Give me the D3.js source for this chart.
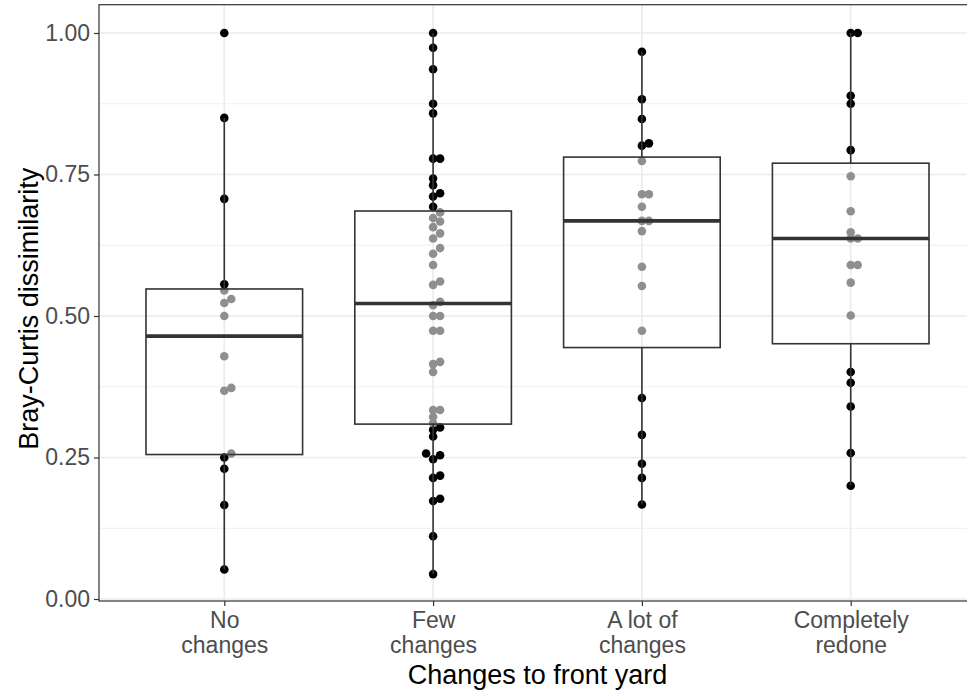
<!DOCTYPE html>
<html>
<head>
<meta charset="utf-8">
<script src="https://cdn.jsdelivr.net/npm/d3@7"></script>
<style>
  body { margin: 0; background: #fff; }
  text { font-family: "Liberation Sans", Arial, Helvetica, sans-serif; }
</style>
</head>
<body>
<svg id="chart" width="967" height="694"></svg>
<script>
// categories shown on the x axis
var categories = ["No changes", "Few changes", "A lot of changes", "Completely redone"];
var tickLines = [["No", "changes"], ["Few", "changes"], ["A lot of", "changes"], ["Completely", "redone"]];
var yTicks = [0, 0.25, 0.5, 0.75, 1];

// Bray-Curtis dissimilarity values per group
var noChanges = [1.0, 0.850, 0.707, 0.556, 0.545, 0.530, 0.523, 0.500, 0.429, 0.373, 0.368,
  0.257, 0.250, 0.230, 0.166, 0.052];
var fewChanges = [1.0, 0.974, 0.936, 0.875, 0.858, 0.778, 0.778, 0.743, 0.731, 0.717, 0.711,
  0.693, 0.683, 0.673, 0.667, 0.657, 0.646, 0.637, 0.620, 0.610, 0.590, 0.561, 0.555, 0.525,
  0.519, 0.500, 0.500, 0.474, 0.474, 0.419, 0.415, 0.401, 0.334, 0.334, 0.322, 0.311, 0.303,
  0.299, 0.287, 0.257, 0.254, 0.247, 0.218, 0.214, 0.177, 0.173, 0.111, 0.044];
var aLotOfChanges = [0.967, 0.883, 0.848, 0.805, 0.801, 0.774, 0.715, 0.715, 0.693, 0.668, 0.668,
  0.650, 0.587, 0.553, 0.474, 0.355, 0.290, 0.239, 0.214, 0.167];
var completelyRedone = [1.0, 1.0, 0.889, 0.875, 0.793, 0.747, 0.685, 0.648, 0.637, 0.637, 0.590,
  0.590, 0.559, 0.501, 0.401, 0.382, 0.340, 0.258, 0.200];

var groups = [noChanges, fewChanges, aLotOfChanges, completelyRedone];

var svg = d3.select("#chart");
var panel = {left: 99, right: 976, top: 4.7, bottom: 601};

var x = d3.scalePoint()
    .domain(categories)
    .range([panel.left, panel.right])
    .padding(0.6);
var y = d3.scaleLinear()
    .domain([0, 1])
    .range([599, 33]);

var boxW = x.step() * 0.75;

var plot = svg.append("g");

// background + grid
plot.append("rect")
    .attr("x", panel.left).attr("y", panel.top)
    .attr("width", panel.right - panel.left).attr("height", panel.bottom - panel.top)
    .attr("fill", "#fff");

var minor = [0.125, 0.375, 0.625, 0.875];
plot.selectAll(".minor").data(minor).enter().append("line")
    .attr("x1", panel.left).attr("x2", panel.right)
    .attr("y1", function(d) { return y(d); }).attr("y2", function(d) { return y(d); })
    .attr("stroke", "#ebebeb").attr("stroke-width", 0.8);
plot.selectAll(".majorY").data(yTicks).enter().append("line")
    .attr("x1", panel.left).attr("x2", panel.right)
    .attr("y1", function(d) { return y(d); }).attr("y2", function(d) { return y(d); })
    .attr("stroke", "#ebebeb").attr("stroke-width", 1.6);
plot.selectAll(".majorX").data(categories).enter().append("line")
    .attr("y1", panel.top).attr("y2", panel.bottom)
    .attr("x1", function(d) { return x(d); }).attr("x2", function(d) { return x(d); })
    .attr("stroke", "#ebebeb").attr("stroke-width", 1.6);

// box stats like ggplot (type 7 quantiles)
function stats(vals) {
  var s = vals.slice().sort(d3.ascending);
  var q1 = d3.quantileSorted(s, 0.25), med = d3.quantileSorted(s, 0.5), q3 = d3.quantileSorted(s, 0.75);
  var iqr = q3 - q1;
  var lo = d3.min(s.filter(function(v) { return v >= q1 - 1.5 * iqr; }));
  var hi = d3.max(s.filter(function(v) { return v <= q3 + 1.5 * iqr; }));
  return {q1: q1, med: med, q3: q3, lo: lo, hi: hi};
}

// simple beeswarm: go up from the lowest value, shift sideways when points collide
var step = 7, yGap = 6;
function swarm(vals, cx) {
  var order = vals.slice().sort(d3.ascending);
  var placed = [];
  order.forEach(function(v) {
    var py = y(v);
    var ks = [0, 1, -1, 2, -2, 3, -3];
    for (var i = 0; i < ks.length; i++) {
      var px = ks[i] * step;
      var hit = placed.some(function(p) {
        return Math.abs(p.y - py) < yGap && Math.abs(p.dx - px) < step * 0.9;
      });
      if (!hit) { placed.push({v: v, y: py, dx: px, x: cx + px}); break; }
    }
  });
  return placed;
}

groups.forEach(function(vals, i) {
  var cx = x(categories[i]);
  var st = stats(vals);
  var pts = swarm(vals, cx);

  plot.append("g").selectAll("circle")
      .data(pts).enter().append("circle")
      .attr("cx", function(d) { return d.x; })
      .attr("cy", function(d) { return d.y; })
      .attr("r", 4.3)
      .attr("fill", function(d) { return (d.v >= st.q1 && d.v <= st.q3) ? "#8f8f8f" : "#000"; });

  var g = plot.append("g").attr("stroke", "#333").attr("fill", "none");
  g.append("line").attr("x1", cx).attr("x2", cx)
      .attr("y1", y(st.q3)).attr("y2", y(st.hi)).attr("stroke-width", 1.6);
  g.append("line").attr("x1", cx).attr("x2", cx)
      .attr("y1", y(st.q1)).attr("y2", y(st.lo)).attr("stroke-width", 1.6);
  g.append("rect")
      .attr("x", cx - boxW / 2).attr("width", boxW)
      .attr("y", y(st.q3)).attr("height", y(st.q1) - y(st.q3))
      .attr("stroke-width", 1.6);
  g.append("line").attr("x1", cx - boxW / 2).attr("x2", cx + boxW / 2)
      .attr("y1", y(st.med)).attr("y2", y(st.med)).attr("stroke-width", 3.6);
});

// panel border
plot.append("rect")
    .attr("x", panel.left).attr("y", panel.top)
    .attr("width", panel.right - panel.left).attr("height", panel.bottom - panel.top)
    .attr("fill", "none").attr("stroke", "#333").attr("stroke-width", 1.2);

// y axis
var yAxis = svg.append("g")
    .attr("transform", "translate(" + panel.left + ",0)")
    .call(d3.axisLeft(y).tickValues(yTicks).tickFormat(d3.format(".2f")).tickSize(5).tickPadding(4));
yAxis.select(".domain").remove();
yAxis.selectAll(".tick line").attr("stroke", "#333").attr("stroke-width", 1.2);
yAxis.selectAll(".tick text").attr("fill", "#4d4d4d").style("font-size", "23px")
    .style("font-family", "'Liberation Sans', Arial, sans-serif");

// x axis
var xAxis = svg.append("g")
    .attr("transform", "translate(0," + panel.bottom + ")")
    .call(d3.axisBottom(x).tickSize(5).tickFormat(""));
xAxis.select(".domain").remove();
xAxis.selectAll(".tick line").attr("stroke", "#333").attr("stroke-width", 1.2);
xAxis.selectAll(".tick").each(function(d, i) {
  var t = d3.select(this).append("text")
      .attr("fill", "#4d4d4d").attr("text-anchor", "middle")
      .style("font-size", "23px");
  tickLines[i].forEach(function(line, j) {
    t.append("tspan").attr("x", 0).attr("y", 27 + j * 25).text(line);
  });
});

// axis titles
svg.append("text")
    .attr("x", (panel.left + panel.right) / 2).attr("y", 684)
    .attr("text-anchor", "middle").attr("fill", "#000")
    .style("font-size", "27px")
    .text("Changes to front yard");
svg.append("text")
    .attr("transform", "translate(38," + ((panel.top + panel.bottom) / 2 + 6) + ") rotate(-90)")
    .attr("text-anchor", "middle").attr("fill", "#000")
    .style("font-size", "27px")
    .text("Bray-Curtis dissimilarity");
</script>
</body>
</html>
